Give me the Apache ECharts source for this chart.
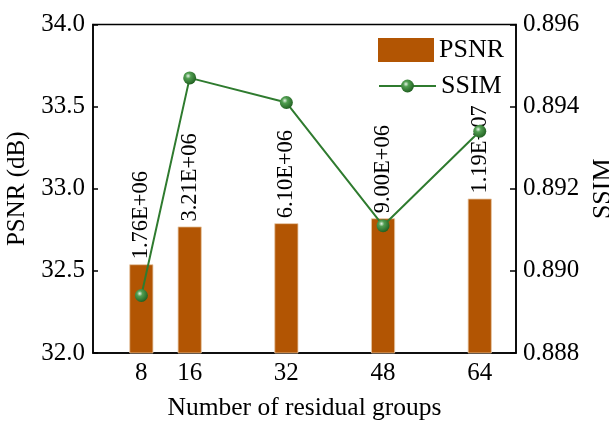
<!DOCTYPE html>
<html>
<head>
<meta charset="utf-8">
<script src="https://cdn.jsdelivr.net/npm/echarts@6/dist/echarts.min.js"></script>
<style>
  html, body { margin: 0; padding: 0; background: #fff; }
  #chart { width: 609px; height: 422px; }
</style>
</head>
<body>
<div id="chart"></div>
<script>
// Number of residual groups vs. reconstruction quality
const groups = [8, 16, 32, 48, 64];
const psnr = [32.54, 32.77, 32.79, 32.82, 32.94];
const ssim = [0.8894, 0.8947, 0.8941, 0.8911, 0.8934];
const paramLabels = ['1.76E+06', '3.21E+06', '6.10E+06', '9.00E+06', '1.19E+07'];

const FONT = "'Liberation Serif', 'Times New Roman', serif";
const BAR_COLOR = '#B25503';
const LINE_COLOR = '#2F7B2F';

const sphere = new echarts.graphic.RadialGradient(0.38, 0.35, 0.7, [
  { offset: 0, color: '#e8f4e8' },
  { offset: 0.3, color: '#519e51' },
  { offset: 1, color: '#1e5c1e' }
]);

const chart = echarts.init(document.getElementById('chart'), null, { renderer: 'canvas' });

const legendText = { fontFamily: FONT, fontSize: 26, color: '#000' };

chart.setOption({
  animation: false,
  backgroundColor: '#fff',
  textStyle: { fontFamily: FONT, color: '#000' },
  grid: {
    left: 93, right: 93, top: 24.5, bottom: 69,
    containLabel: false, outerBoundsMode: 'none',
    show: true, borderColor: '#000', borderWidth: 1.5, backgroundColor: 'transparent'
  },
  legend: [
    {
      data: ['PSNR'],
      left: 378, top: 37, padding: 0,
      icon: 'rect',
      itemWidth: 56, itemHeight: 24, itemGap: 5,
      itemStyle: { borderWidth: 0 },
      textStyle: legendText
    },
    {
      data: ['SSIM'],
      left: 378, top: 73, padding: 0,
      itemWidth: 57, itemHeight: 16,
      textStyle: legendText
    }
  ],
  xAxis: {
    type: 'value',
    min: 0, max: 70, interval: 8,
    name: 'Number of residual groups',
    nameLocation: 'middle', nameGap: 42,
    nameTextStyle: { fontFamily: FONT, fontSize: 25.5, color: '#000' },
    splitLine: { show: false },
    axisTick: { show: false },
    axisLine: { lineStyle: { color: '#000', width: 1.5 } },
    axisLabel: {
      fontFamily: FONT, fontSize: 25, color: '#000', margin: 8,
      showMaxLabel: false,
      formatter: v => groups.includes(v) ? String(v) : ''
    }
  },
  yAxis: [
    {
      type: 'value',
      min: 32, max: 34, interval: 0.5,
      name: 'PSNR (dB)',
      nameLocation: 'middle', nameGap: 58, nameRotate: 90,
      nameTextStyle: { fontFamily: FONT, fontSize: 25, color: '#000' },
      splitLine: { show: false },
      axisLine: { show: true, lineStyle: { color: '#000', width: 1.5 } },
      axisTick: { show: true, inside: true, length: 5, lineStyle: { color: '#000', width: 1.5 } },
      axisLabel: {
        fontFamily: FONT, fontSize: 25, color: '#000', margin: 8,
        formatter: v => v.toFixed(1)
      }
    },
    {
      type: 'value',
      min: 0.888, max: 0.896, interval: 0.002,
      name: 'SSIM',
      nameLocation: 'middle', nameGap: 71, nameRotate: 90,
      nameTextStyle: { fontFamily: FONT, fontSize: 26, color: '#000' },
      splitLine: { show: false },
      axisLine: { show: true, lineStyle: { color: '#000', width: 1.5 } },
      axisTick: { show: true, inside: true, length: 6, lineStyle: { color: '#000', width: 1.5 } },
      axisLabel: {
        fontFamily: FONT, fontSize: 25, color: '#000', margin: 7,
        formatter: v => v.toFixed(3)
      }
    }
  ],
  series: [
    {
      name: 'PSNR',
      type: 'bar',
      yAxisIndex: 0,
      barWidth: 24,
      data: groups.map((g, i) => [g, psnr[i]]),
      itemStyle: { color: BAR_COLOR, borderColor: '#E6C6A4', borderWidth: 0.8 },
      label: {
        show: true,
        position: 'top',
        rotate: 90,
        align: 'left',
        verticalAlign: 'middle',
        distance: 5,
        fontFamily: FONT,
        fontSize: 22.5,
        color: '#000',
        formatter: p => paramLabels[p.dataIndex]
      },
      z: 2
    },
    {
      name: 'SSIM',
      type: 'line',
      yAxisIndex: 1,
      data: groups.map((g, i) => [g, ssim[i]]),
      symbol: 'circle',
      symbolSize: 13,
      lineStyle: { color: LINE_COLOR, width: 2 },
      itemStyle: { color: sphere, borderWidth: 0 },
      z: 3
    }
  ]
});
</script>
</body>
</html>
